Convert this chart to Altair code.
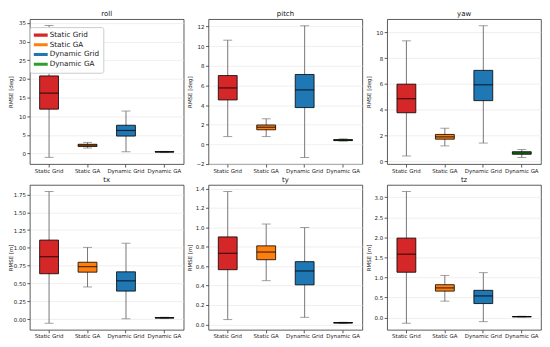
import altair as alt
import pandas as pd

categories = ["Static Grid", "Static GA", "Dynamic Grid", "Dynamic GA"]
colors = ["#d62728", "#ff7f0e", "#1f77b4", "#2ca02c"]

# per category: [min, q1, median, q3, max]
roll = [[-1.0, 11.9, 16.2, 20.8, 34.3], [1.5, 1.9, 2.25, 2.5, 3.0],
        [0.5, 4.7, 6.2, 7.6, 11.4], [0.35, 0.42, 0.47, 0.52, 0.6]]
pitch = [[0.79, 4.52, 5.74, 7.0, 10.6], [0.79, 1.48, 1.74, 1.97, 2.6],
         [-1.34, 3.74, 5.54, 7.11, 12.07], [0.33, 0.38, 0.43, 0.48, 0.56]]
yaw = [[0.42, 3.77, 4.86, 5.99, 9.35], [1.2, 1.72, 1.9, 2.09, 2.57],
       [1.42, 4.71, 5.94, 7.06, 10.52], [0.3, 0.55, 0.65, 0.75, 0.92]]
tx = [[-0.054, 0.639, 0.877, 1.11, 1.79], [0.454, 0.661, 0.738, 0.80, 1.008],
      [0.009, 0.396, 0.54, 0.666, 1.066], [0.015, 0.019, 0.022, 0.025, 0.03]]
ty = [[0.05, 0.564, 0.733, 0.902, 1.37], [0.451, 0.667, 0.746, 0.81, 1.035],
      [0.073, 0.408, 0.551, 0.647, 0.999], [0.011, 0.014, 0.017, 0.019, 0.022]]
tz = [[-0.14, 1.13, 1.58, 1.98, 3.14], [0.41, 0.66, 0.74, 0.82, 1.05],
      [-0.1, 0.35, 0.54, 0.68, 1.12], [0.015, 0.02, 0.024, 0.028, 0.035]]

roll_ticks = [0, 5, 10, 15, 20, 25, 30, 35]
pitch_ticks = [-2, 0, 2, 4, 6, 8, 10, 12]
yaw_ticks = [0, 2, 4, 6, 8, 10]
tx_ticks = [0.0, 0.25, 0.5, 0.75, 1.0, 1.25, 1.5, 1.75]
ty_ticks = [0.0, 0.2, 0.4, 0.6, 0.8, 1.0, 1.2, 1.4]
tz_ticks = [0.0, 0.5, 1.0, 1.5, 2.0, 2.5, 3.0]

W, H = 155, 146
FONT = "DejaVu Sans"
BOXW = 19


def panel(name, stats, ytitle, ticks, domain, fmt, show_legend=False):
    df = pd.DataFrame({
        "cat": categories,
        "lo": [s[0] for s in stats],
        "q1": [s[1] for s in stats],
        "med": [s[2] for s in stats],
        "q3": [s[3] for s in stats],
        "hi": [s[4] for s in stats],
    })
    x = alt.X("cat:N", sort=categories,
              scale=alt.Scale(domain=categories, paddingInner=0, paddingOuter=0),
              axis=alt.Axis(title=None, labelAngle=0, labelFontSize=5.5, labelPadding=1,
                            tickSize=3, labelFont=FONT))
    yscale = alt.Scale(domain=domain, nice=False, zero=False)
    yaxis = alt.Axis(title=ytitle, values=ticks, format=fmt, labelFontSize=5.5,
                     titleFontSize=5.5, titleFontWeight="normal", titlePadding=2,
                     minExtent=14, maxExtent=14, tickSize=3, labelPadding=1.5,
                     labelFont=FONT, titleFont=FONT)

    def Y(field):
        return alt.Y(f"{field}:Q", scale=yscale, axis=yaxis)

    base = alt.Chart(df).encode(x=x)
    if show_legend:
        leg = alt.Legend(title=None, orient="none", legendX=0, legendY=8,
                         symbolType="M-2,0L2,0", symbolSize=64, symbolStrokeWidth=3.2,
                         labelFontSize=7.3, labelFont=FONT, labelColor="#222",
                         fillColor="white", strokeColor="#cccccc", padding=4,
                         cornerRadius=2, rowPadding=1.8, labelOffset=4, clipHeight=8)
    else:
        leg = None
    legend_rule = base.mark_rule(strokeWidth=1).encode(
        y=Y("q1"), y2="q3:Q",
        stroke=alt.Stroke("cat:N", scale=alt.Scale(domain=categories, range=colors), legend=leg))
    whisker = base.mark_rule(color="#777777", strokeWidth=1).encode(y=Y("lo"), y2="hi:Q")
    caplo = base.mark_tick(color="#777777", size=9, thickness=1).encode(y=Y("lo"))
    caphi = base.mark_tick(color="#777777", size=9, thickness=1).encode(y=Y("hi"))
    box = base.mark_bar(size=BOXW, stroke="black", strokeWidth=0.8).encode(
        y=Y("q1"), y2="q3:Q",
        fill=alt.Fill("cat:N", scale=alt.Scale(domain=categories, range=colors), legend=None))
    median = base.mark_tick(color="black", size=BOXW, thickness=1.2).encode(y=Y("med"))
    return alt.layer(legend_rule, whisker, caplo, caphi, box, median).properties(
        width=W, height=H,
        title=alt.TitleParams(name, fontSize=7, fontWeight="normal", offset=2, font=FONT))


p_roll = panel("roll", roll, "RMSE [deg]", roll_ticks, [-2.8, 36.0], "d", show_legend=True)
p_pitch = panel("pitch", pitch, "RMSE [deg]", pitch_ticks, [-2.01, 12.74], "d")
p_yaw = panel("yaw", yaw, "RMSE [deg]", yaw_ticks, [-0.21, 11.03], "d")
p_tx = panel("tx", tx, "RMSE [m]", tx_ticks, [-0.146, 1.882], ".2f")
p_ty = panel("ty", ty, "RMSE [m]", ty_ticks, [-0.056, 1.438], ".1f")
p_tz = panel("tz", tz, "RMSE [m]", tz_ticks, [-0.304, 3.304], ".1f")

top = alt.hconcat(p_roll, p_pitch, p_yaw, spacing=2)
bottom = alt.hconcat(p_tx, p_ty, p_tz, spacing=2)

chart = alt.vconcat(top, bottom, spacing=1).resolve_scale(
    stroke="independent", fill="independent"
).properties(padding=0).configure_view(
    stroke="#333333", strokeWidth=0.8
).configure_axis(
    gridColor="#e4e4e4", gridWidth=0.6, domain=False, tickColor="#333333",
    labelColor="#222222", titleColor="#222222", tickWidth=0.8
).configure_title(color="#111111")

chart.save("out.html", embed_options={"renderer": "svg", "actions": False})
